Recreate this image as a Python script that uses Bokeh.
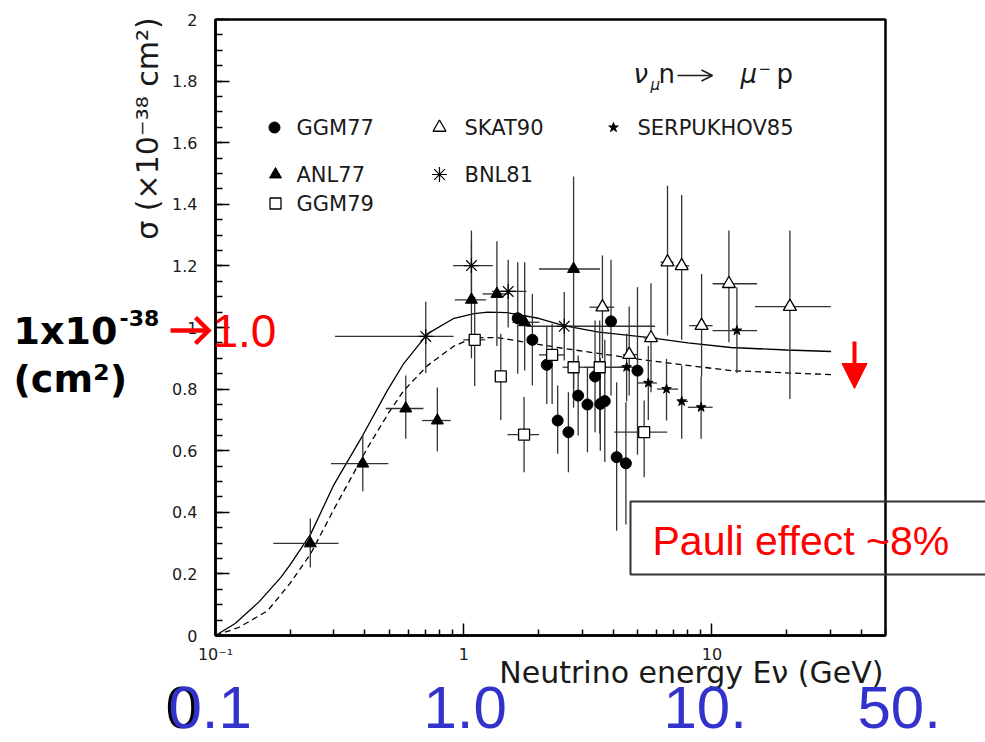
import math
from bokeh.plotting import figure
from bokeh.models import Range1d, FixedTicker, CustomJSTickFormatter, Arrow, OpenHead, NormalHead
from bokeh.core.properties import value
from bokeh.embed import file_html
from bokeh.resources import INLINE

# ---------------- data ----------------
# theory curves
solid_E = [0.1, 0.12, 0.15, 0.183, 0.2, 0.242, 0.3, 0.392, 0.492, 0.573, 0.716, 0.914, 1.10, 1.25, 1.5, 2.0, 2.53, 3.5, 5.5, 8.0, 11.9, 20.0, 30.2]
solid_s = [0.0, 0.039, 0.11, 0.188, 0.23, 0.33, 0.49, 0.65, 0.795, 0.883, 0.98, 1.03, 1.045, 1.05, 1.048, 1.03, 1.006, 0.985, 0.968, 0.95, 0.935, 0.927, 0.922]
dashed_E = [0.1, 0.124, 0.162, 0.2, 0.242, 0.3, 0.41, 0.5, 0.573, 0.716, 0.914, 1.10, 1.37, 2.53, 5.5, 11.9, 30.2]
dashed_s = [0.0, 0.026, 0.08, 0.17, 0.266, 0.41, 0.61, 0.725, 0.795, 0.877, 0.94, 0.967, 0.967, 0.932, 0.893, 0.86, 0.847]

# GGM77 (filled circles)
ggm77_E = [1.65, 1.89, 2.16, 2.39, 2.64, 2.89, 3.15, 3.38, 3.55, 3.70, 3.92, 4.13, 4.50, 5.01]
ggm77_s = [1.03, 0.96, 0.879, 0.698, 0.66, 0.779, 0.75, 0.841, 0.752, 0.761, 1.02, 0.579, 0.559, 0.86]
ggm77_slo = [0.85, 0.812, 0.752, 0.59, 0.53, 0.649, 0.595, 0.66, 0.60, 0.563, 0.779, 0.34, 0.36, 0.587]
ggm77_shi = [1.212, 1.109, 1.006, 0.812, 0.79, 0.909, 0.871, 1.023, 0.90, 0.96, 1.22, 0.822, 0.757, 1.131]

# ANL77 (filled triangles)
anl77_E = [0.241, 0.392, 0.584, 0.783, 1.074, 1.36, 1.76, 2.77]
anl77_s = [0.299, 0.558, 0.737, 0.698, 1.09, 1.109, 1.017, 1.19]
anl77_Elo = [0.171, 0.292, 0.485, 0.68, 0.92, 1.19, 1.57, 2.01]
anl77_Ehi = [0.313, 0.497, 0.688, 0.886, 1.23, 1.52, 2.02, 3.54]
anl77_slo = [0.221, 0.468, 0.639, 0.598, 0.90, 0.94, 0.86, 0.80]
anl77_shi = [0.38, 0.649, 0.844, 0.805, 1.28, 1.28, 1.212, 1.49]

# BNL81 (asterisks)
bnl81_E = [0.703, 1.074, 1.51, 2.54]
bnl81_s = [0.971, 1.201, 1.117, 1.004]
bnl81_Elo = [0.303, 0.906, 1.30, 1.79]
bnl81_Ehi = [0.91, 1.31, 1.79, 5.9]
bnl81_slo = [0.852, 1.09, 1.0, 0.893]
bnl81_shi = [1.084, 1.315, 1.22, 1.115]

# GGM79 (open squares)
ggm79_E = [1.107, 1.41, 1.75, 2.27, 2.77, 3.53, 5.33]
ggm79_s = [0.96, 0.841, 0.652, 0.911, 0.871, 0.871, 0.66]
ggm79_Elo = [0.995, 1.35, 1.50, 2.01, 2.50, 3.05, 4.04]
ggm79_Ehi = [1.22, 1.47, 2.01, 2.55, 3.05, 4.41, 6.6]
ggm79_slo = [0.81, 0.70, 0.53, 0.752, 0.74, 0.655, 0.514]
ggm79_shi = [1.10, 0.98, 0.774, 1.012, 1.0, 1.023, 0.763]

# SKAT90 (open triangles)
skat90_E = [3.62, 4.64, 5.68, 6.62, 7.55, 9.08, 11.7, 20.6]
skat90_s = [1.066, 0.912, 0.966, 1.212, 1.20, 1.006, 1.142, 1.068]
skat90_Elo = [3.21, 4.37, 5.31, 6.2, 7.13, 8.1, 10.06, 14.9]
skat90_Ehi = [4.04, 5.01, 6.0, 7.0, 8.1, 10.06, 15.2, 30.1]
skat90_slo = [0.90, 0.779, 0.79, 0.974, 0.96, 0.84, 0.952, 0.768]
skat90_shi = [1.234, 1.068, 1.144, 1.46, 1.43, 1.174, 1.315, 1.315]

# SERPUKHOV85 (stars)
serp85_E = [4.53, 5.54, 6.56, 7.55, 9.04, 12.6]
serp85_s = [0.871, 0.82, 0.80, 0.76, 0.741, 0.99]
serp85_Elo = [4.2, 5.0, 6.0, 7.3, 8.0, 10.06]
serp85_Ehi = [4.9, 6.0, 7.3, 8.0, 10.06, 15.2]
serp85_slo = [0.76, 0.70, 0.698, 0.639, 0.639, 0.852]
serp85_shi = [0.98, 0.94, 0.898, 0.877, 0.84, 1.131]

x_major = [0.1, 1, 10]
x_minor = [0.2, 0.3, 0.4, 0.5, 0.6, 0.7, 0.8, 0.9, 2, 3, 4, 5, 6, 7, 8, 9, 20, 30, 40, 50]
y_major = [0, 0.2, 0.4, 0.6, 0.8, 1.0, 1.2, 1.4, 1.6, 1.8, 2.0]
y_minor = [i * 0.05 for i in range(41)]

legend_names = ["GGM77", "SKAT90", "SERPUKHOV85", "ANL77", "BNL81", "GGM79"]
bottom_labels = ["0.1", "1.0", "10.", "50."]

# ---------------- layout helpers (pixel -> data) ----------------
X0, DEC, Y0, PPU = 215.0, 670.0 / math.log10(500.0), 635.0, 308.0
def dx(px):
    return 10 ** (-1 + (px - X0) / DEC)
def dy(py):
    return (Y0 - py) / PPU

FONT = "DejaVu Sans"
SLIDE = "Liberation Sans"

p = figure(width=985, height=742, x_axis_type="log",
           x_range=Range1d(0.1, 50), y_range=Range1d(0, 2),
           output_backend="svg", toolbar_location=None,
           min_border_left=215, min_border_right=100,
           min_border_top=19, min_border_bottom=107)
p.grid.visible = False
p.background_fill_color = "white"
p.border_fill_color = "white"
p.outline_line_color = "black"
p.outline_line_width = 2.5

p.xaxis.ticker = FixedTicker(ticks=x_major, minor_ticks=x_minor)
p.yaxis.ticker = FixedTicker(ticks=y_major, minor_ticks=y_minor)
p.xaxis.formatter = CustomJSTickFormatter(code="return tick < 0.5 ? '10\\u207B\\u00B9' : String(Math.round(tick));")
p.yaxis.formatter = CustomJSTickFormatter(code="return String(Math.round(tick*10)/10);")
for ax in (p.xaxis, p.yaxis):
    ax.major_tick_out = 0
    ax.minor_tick_out = 0
    ax.axis_line_width = 2.5
    ax.major_tick_line_width = 1.5
    ax.minor_tick_line_width = 1.5
    ax.major_label_text_font = FONT
    ax.major_label_text_font_size = "16px"
    ax.major_label_text_color = "#1a1a1a"
p.xaxis.major_tick_in = 12
p.xaxis.minor_tick_in = 6
p.xaxis.major_label_standoff = 9
p.yaxis.major_tick_in = 14
p.yaxis.minor_tick_in = 7
p.yaxis.major_label_standoff = 18

# theory curves
p.line(solid_E, solid_s, line_color="black", line_width=1.3)
p.line(dashed_E, dashed_s, line_color="black", line_width=1.3, line_dash="6 4")

ERR = dict(line_color="#333333", line_width=1.3)

def errs(E, s, slo, shi, Elo=None, Ehi=None):
    p.segment(x0=E, y0=slo, x1=E, y1=shi, **ERR)
    if Elo is not None:
        p.segment(x0=Elo, y0=s, x1=Ehi, y1=s, **ERR)

errs(ggm77_E, ggm77_s, ggm77_slo, ggm77_shi)
errs(anl77_E, anl77_s, anl77_slo, anl77_shi, anl77_Elo, anl77_Ehi)
errs(bnl81_E, bnl81_s, bnl81_slo, bnl81_shi, bnl81_Elo, bnl81_Ehi)
errs(ggm79_E, ggm79_s, ggm79_slo, ggm79_shi, ggm79_Elo, ggm79_Ehi)
errs(skat90_E, skat90_s, skat90_slo, skat90_shi, skat90_Elo, skat90_Ehi)
errs(serp85_E, serp85_s, serp85_slo, serp85_shi, serp85_Elo, serp85_Ehi)

STY = {
    "GGM77": dict(marker="circle", size=11, fill_color="black", line_color="black"),
    "SKAT90": dict(marker="triangle", size=13, fill_color="white", line_color="black", line_width=1.3),
    "SERPUKHOV85": dict(marker="star", size=10, fill_color="black", line_color="black"),
    "ANL77": dict(marker="triangle", size=12, fill_color="black", line_color="black"),
    "BNL81": dict(marker="asterisk", size=15, fill_color=None, line_color="black", line_width=1.2),
    "GGM79": dict(marker="square", size=11, fill_color="white", line_color="black", line_width=1.3),
}
p.scatter(ggm77_E, ggm77_s, **STY["GGM77"])
p.scatter(anl77_E, anl77_s, **STY["ANL77"])
p.scatter(bnl81_E, bnl81_s, **STY["BNL81"])
p.scatter(ggm79_E, ggm79_s, **STY["GGM79"])
p.scatter(skat90_E, skat90_s, **STY["SKAT90"])
p.scatter(serp85_E, serp85_s, **STY["SERPUKHOV85"])


def txt(px, py, text, size, style="normal", color="#1a1a1a", font=FONT, align="left", angle=0.0):
    """Text placed by its visual centre line (py), drawn above the frame clip."""
    p.text(x=[dx(px)], y=[dy(py)], text=[text], text_font=value(font), text_font_size=size,
           text_font_style=style, text_color=color, text_align=align,
           text_baseline="middle", angle=angle, level="overlay")


# legend (drawn in the frame, ROOT style)
leg_pos = {"GGM77": (274, 127), "SKAT90": (439, 127), "SERPUKHOV85": (613, 127),
           "ANL77": (275, 174), "BNL81": (439, 174), "GGM79": (275, 203)}
leg_text_x = {"GGM77": 296, "SKAT90": 464, "SERPUKHOV85": 637, "ANL77": 296, "BNL81": 464, "GGM79": 296}
for name in legend_names:
    mx, my = leg_pos[name]
    p.scatter([dx(mx)], [dy(my)], **STY[name])
    txt(leg_text_x[name], my, name, "21px")

# reaction label  nu_mu n -> mu^- p
txt(633, 73, "\u03bd", "26px", "italic")
txt(650, 84, "\u03bc", "15px", "italic")
txt(658, 73, "n", "26px")
p.add_layout(Arrow(x_start=dx(677), y_start=dy(75), x_end=dx(712), y_end=dy(75),
                   line_color="#1a1a1a", line_width=1.5,
                   end=OpenHead(size=11, line_color="#1a1a1a", line_width=1.5)))
txt(740, 73, "\u03bc", "26px", "italic")
txt(758, 67, "\u2212", "15px")
txt(776, 73, "p", "26px")

# axis titles
txt(147, 128, "\u03c3 (\u00d710\u207b\u00b3\u2078 cm\u00b2)", "30px", align="center", angle=math.pi / 2)
txt(883, 672, "Neutrino energy E\u03bd (GeV)", "30px", align="right")

# slide annotations
txt(13, 330, "1x10", "38px", "bold", color="black")
txt(119, 317, "-38", "22px", "bold", color="black")
txt(13, 378, "(cm\u00b2)", "38px", "bold", color="black")
p.segment(x0=[dx(170)], y0=[dy(330)], x1=[dx(207)], y1=[dy(330)], line_color="red",
          line_width=4.5, level="overlay")
p.line(x=[dx(195), dx(208), dx(195)], y=[dy(317), dy(330), dy(343)], line_color="red",
       line_width=4.5, line_join="miter", level="overlay")
txt(212, 330, "1.0", "46px", color="red", font=SLIDE)

p.add_layout(Arrow(x_start=dx(854), y_start=dy(341), x_end=dx(854), y_end=dy(388),
                   line_color="red", line_width=4,
                   end=NormalHead(size=25, fill_color="red", line_color="red", line_width=1)))

p.quad(left=[dx(630)], right=[dx(995)], bottom=[dy(574)], top=[dy(501)],
       fill_color=None, line_color="#333333", line_width=2, level="overlay")
txt(652, 540, "Pauli effect ~8%", "41px", color="red", font=SLIDE)

# big blue scale labels at the bottom
txt(165, 707, "0", "60px", color="black", font=SLIDE)
for label, px in zip(bottom_labels, [168, 423, 663, 857]):
    txt(px, 707, label, "60px", color="#3333cc", font=SLIDE)

open("out.html", "w").write(file_html(p, INLINE))
